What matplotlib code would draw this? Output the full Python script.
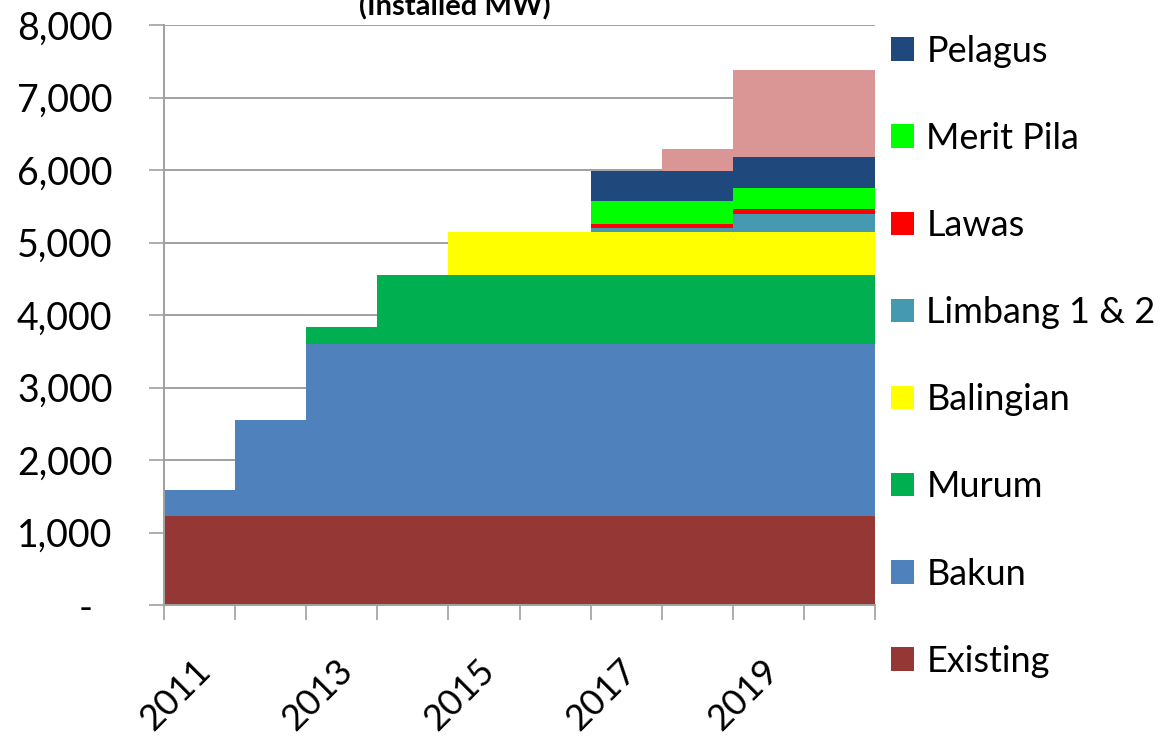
import numpy as np
import matplotlib
matplotlib.use("Agg")
import matplotlib.pyplot as plt
from matplotlib.patches import Patch
from matplotlib.transforms import ScaledTranslation

#### Data (installed MW, stacked) ####

years = [2011, 2012, 2013, 2014, 2015, 2016, 2017, 2018, 2019, 2020]
existing = [1230, 1230, 1230, 1230, 1230, 1230, 1230, 1230, 1230, 1230]
bakun = [350, 1320, 2370, 2370, 2370, 2370, 2370, 2370, 2370, 2370]
murum = [0, 0, 230, 950, 950, 950, 950, 950, 950, 950]
balingian = [0, 0, 0, 0, 595, 595, 595, 595, 595, 595]
limbang = [0, 0, 0, 0, 0, 0, 50, 50, 255, 255]
lawas = [0, 0, 0, 0, 0, 0, 55, 55, 60, 60]
merit_pila = [0, 0, 0, 0, 0, 0, 320, 320, 295, 295]
pelagus = [0, 0, 0, 0, 0, 0, 410, 410, 420, 420]
baram = [0, 0, 0, 0, 0, 0, 0, 310, 1200, 1200]

series = ["Existing", "Bakun", "Murum", "Balingian", "Limbang 1 & 2",
          "Lawas", "Merit Pila", "Pelagus", "Baram"]
values = [existing, bakun, murum, balingian, limbang, lawas, merit_pila,
          pelagus, baram]
colours = ["#953735", "#4F81BD", "#00B050", "#FFFF00", "#4599B1",
           "#FF0000", "#00FF00", "#1F497D", "#D99694"]

#### Figure ####

plt.rcParams["font.family"] = ["Lato", "DejaVu Sans"]
grey = "#A0A0A0"
fs = 27

fig = plt.figure(figsize=(11.65, 7.4), dpi=100)
ax = fig.add_axes([164 / 1165, 1 - 605 / 740, (875 - 164) / 1165, (605 - 25) / 740])

x = np.arange(len(years))
bottom = np.zeros(len(years))
for name, vals, col in zip(series, values, colours):
    ax.bar(x, vals, width=1.0, align="edge", bottom=bottom, color=col,
           linewidth=0, label=name, zorder=2)
    bottom += np.array(vals)

ax.set_xlim(0, len(years))
ax.set_ylim(0, 8000)

# y axis
yt = np.arange(0, 8001, 1000)
ax.set_yticks(yt)
ax.set_yticklabels(["-  "] + [f"{v:,}" for v in yt[1:]], fontsize=fs)
ax.yaxis.grid(True, color=grey, linewidth=1.4)
ax.set_axisbelow(True)
ax.tick_params(axis="y", length=11, width=1.2, color=grey, pad=26)

# x axis: ticks between categories, labels on every other year
ax.set_xticks(np.arange(0, len(years) + 1))
ax.set_xticklabels([])
ax.set_xticks(x[::2] + 0.5, minor=True)
ax.set_xticklabels([str(y) for y in years[::2]], minor=True, fontsize=26,
                   rotation=45, ha="right")
ax.tick_params(axis="x", which="major", length=11, width=1.2, color=grey)
ax.tick_params(axis="x", which="minor", length=0, pad=35)
for lbl in ax.get_xticklabels(minor=True):
    lbl.set_transform(lbl.get_transform() + ScaledTranslation(0.17, 0, fig.dpi_scale_trans))

for s in ["top", "right"]:
    ax.spines[s].set_visible(False)
for s in ["left", "bottom"]:
    ax.spines[s].set_color(grey)
    ax.spines[s].set_linewidth(1.4)

# title (cut off at the top of the picture)
fig.text(455 / 1165, 1 - 15 / 740, "(Installed MW)", ha="center",
         va="baseline", fontsize=21, fontweight="bold")

# legend, top entry falls outside the picture
handles = [Patch(facecolor=c, edgecolor="none") for c in colours][::-1]
fig.legend(handles, series[::-1], loc="upper left",
           bbox_to_anchor=(877 / 1165, 1 + 67 / 740), frameon=False,
           fontsize=26, handlelength=0.62, handleheight=0.62,
           handletextpad=0.35, labelspacing=1.5, borderaxespad=0)

fig.savefig("out.png", dpi=100)
